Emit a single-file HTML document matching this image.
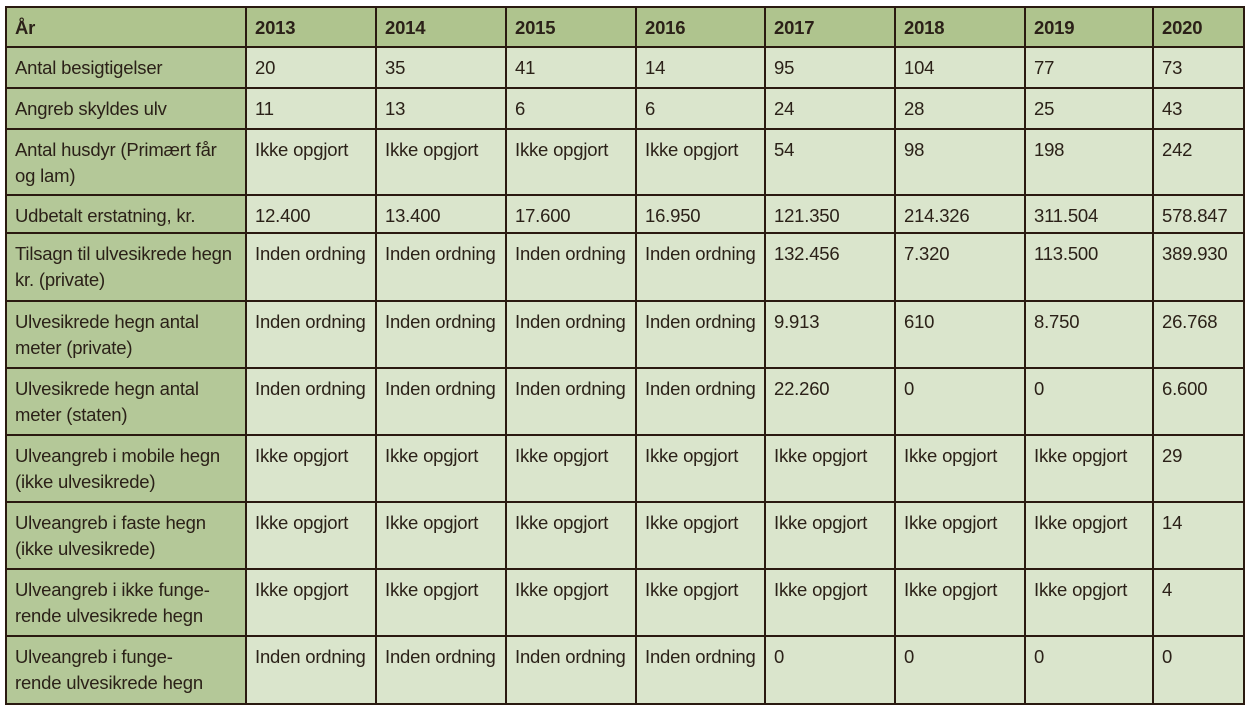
<!DOCTYPE html>
<html><head><meta charset="utf-8"><style>
html,body{margin:0;padding:0;background:#fff;width:1250px;height:711px;overflow:hidden}
table{position:absolute;left:5px;top:6px;border-collapse:collapse;table-layout:fixed;width:1238px;font-family:"Liberation Sans",sans-serif;font-size:18.5px;color:#2b2118;letter-spacing:-0.2px}
td,th{border:2px solid #2a1a10;padding:0 8px;vertical-align:top;text-align:left;line-height:26px;font-weight:normal;overflow:hidden}
th{background:#afc48e;font-weight:bold;padding-top:7px}
td{background:#dae5cc;padding-top:7px}
td.h{background:#b4c898}
</style></head><body>
<table>
<colgroup><col style="width:240px"><col style="width:130px"><col style="width:130px"><col style="width:130px"><col style="width:129px"><col style="width:130px"><col style="width:130px"><col style="width:128px"><col style="width:91px"></colgroup>
<tr style="height:40px"><th>År</th><th>2013</th><th>2014</th><th>2015</th><th>2016</th><th>2017</th><th>2018</th><th>2019</th><th>2020</th></tr>
<tr style="height:41px"><td class="h">Antal besigtigelser</td><td>20</td><td>35</td><td>41</td><td>14</td><td>95</td><td>104</td><td>77</td><td>73</td></tr>
<tr style="height:41px"><td class="h">Angreb skyldes ulv</td><td>11</td><td>13</td><td>6</td><td>6</td><td>24</td><td>28</td><td>25</td><td>43</td></tr>
<tr style="height:66px"><td class="h">Antal husdyr (Primært får og lam)</td><td>Ikke opgjort</td><td>Ikke opgjort</td><td>Ikke opgjort</td><td>Ikke opgjort</td><td>54</td><td>98</td><td>198</td><td>242</td></tr>
<tr style="height:38px"><td class="h">Udbetalt erstatning, kr.</td><td>12.400</td><td>13.400</td><td>17.600</td><td>16.950</td><td>121.350</td><td>214.326</td><td>311.504</td><td>578.847</td></tr>
<tr style="height:68px"><td class="h">Tilsagn til ulvesikrede hegn kr. (private)</td><td>Inden ordning</td><td>Inden ordning</td><td>Inden ordning</td><td>Inden ordning</td><td>132.456</td><td>7.320</td><td>113.500</td><td>389.930</td></tr>
<tr style="height:67px"><td class="h">Ulvesikrede hegn antal meter (private)</td><td>Inden ordning</td><td>Inden ordning</td><td>Inden ordning</td><td>Inden ordning</td><td>9.913</td><td>610</td><td>8.750</td><td>26.768</td></tr>
<tr style="height:67px"><td class="h">Ulvesikrede hegn antal meter (staten)</td><td>Inden ordning</td><td>Inden ordning</td><td>Inden ordning</td><td>Inden ordning</td><td>22.260</td><td>0</td><td>0</td><td>6.600</td></tr>
<tr style="height:67px"><td class="h">Ulveangreb i mobile hegn (ikke ulvesikrede)</td><td>Ikke opgjort</td><td>Ikke opgjort</td><td>Ikke opgjort</td><td>Ikke opgjort</td><td>Ikke opgjort</td><td>Ikke opgjort</td><td>Ikke opgjort</td><td>29</td></tr>
<tr style="height:67px"><td class="h">Ulveangreb i faste hegn (ikke ulvesikrede)</td><td>Ikke opgjort</td><td>Ikke opgjort</td><td>Ikke opgjort</td><td>Ikke opgjort</td><td>Ikke opgjort</td><td>Ikke opgjort</td><td>Ikke opgjort</td><td>14</td></tr>
<tr style="height:67px"><td class="h">Ulveangreb i ikke funge-<br>rende ulvesikrede hegn</td><td>Ikke opgjort</td><td>Ikke opgjort</td><td>Ikke opgjort</td><td>Ikke opgjort</td><td>Ikke opgjort</td><td>Ikke opgjort</td><td>Ikke opgjort</td><td>4</td></tr>
<tr style="height:68px"><td class="h">Ulveangreb i funge-<br>rende ulvesikrede hegn</td><td>Inden ordning</td><td>Inden ordning</td><td>Inden ordning</td><td>Inden ordning</td><td>0</td><td>0</td><td>0</td><td>0</td></tr>
</table>
</body></html>
